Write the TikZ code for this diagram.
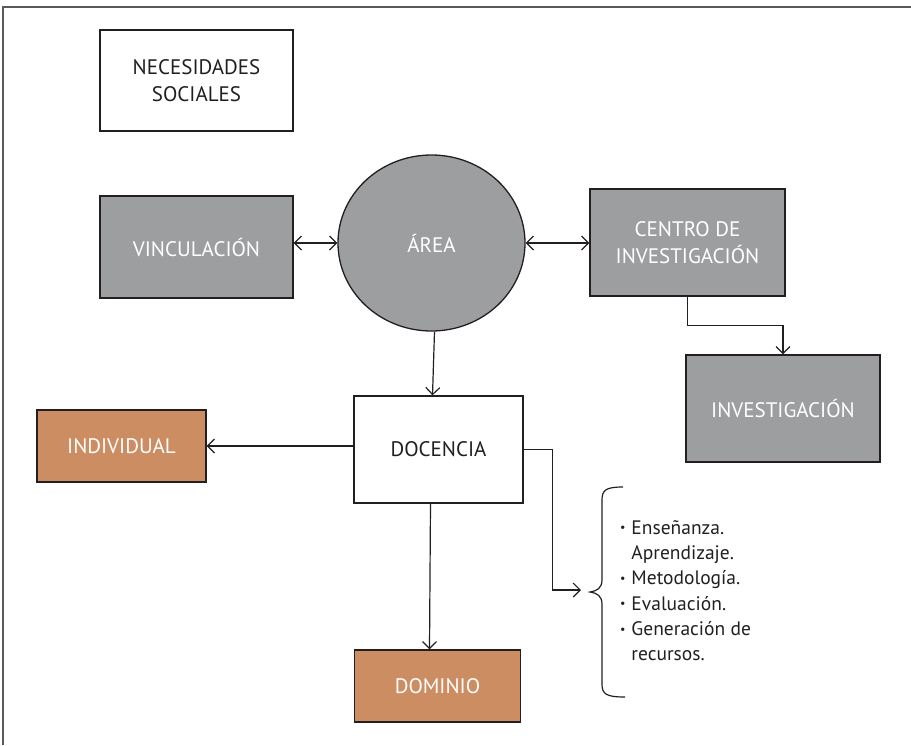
\documentclass[tikz,border=0pt]{standalone}
\usepackage{fontspec}
\setmainfont{PT Sans}
\usetikzlibrary{arrows.meta,shapes.geometric,calc}
\definecolor{boxgray}{HTML}{9D9EA0}
\definecolor{boxorange}{HTML}{CD8D62}
\definecolor{ink}{HTML}{231F20}
\definecolor{framegray}{HTML}{5A5A5A}
\newcommand{\itm}{\raisebox{0.22ex}{\fontsize{12}{12}\selectfont\textbullet}\hspace{0.3em}}
\newcommand{\itmgap}{\hphantom{\itm}}
\tikzset{
  box/.style={draw=ink, line width=1.3pt, rectangle, align=center,
    font=\fontsize{21}{26.5}\selectfont, inner sep=0pt},
  plainbox/.style={box, fill=white, text=ink},
  graybox/.style={box, fill=boxgray, text=white},
  orangebox/.style={box, fill=boxorange, text=white},
  link/.style={draw=ink, line width=1.2pt},
  tip/.style={-{Straight Barb[length=7pt,width=14pt,line width=1.2pt]}},
  bitip/.style={{Straight Barb[length=7pt,width=14pt,line width=1.2pt]}-{Straight Barb[length=7pt,width=14pt,line width=1.2pt]}}
}
\begin{document}
\begin{tikzpicture}[x=1pt,y=-1pt]
\useasboundingbox (0,0) rectangle (911,745);
% page frame (top and left edges)
\draw[framegray, line width=2pt] (3,745) -- (3,7) -- (911,7);

% boxes
\node[plainbox, minimum width=193pt, minimum height=101pt] (nec) at (196.5,80.5) {NECESIDADES\\SOCIALES};
\node[graybox, minimum width=193pt, minimum height=102pt] (vin) at (196.5,247) {VINCULACIÓN};
\node[graybox, ellipse, minimum width=187pt, minimum height=176pt] (area) at (431.5,243) {ÁREA};
\node[graybox, minimum width=195pt, minimum height=107pt] (cen) at (687.5,242.5) {CENTRO DE\\INVESTIGACIÓN};
\node[graybox, minimum width=194pt, minimum height=107pt] (inv) at (783,408.5) {INVESTIGACIÓN};
\node[plainbox, minimum width=169pt, minimum height=107pt] (doc) at (438.5,449.5) {DOCENCIA};
\node[orangebox, minimum width=169pt, minimum height=72pt] (ind) at (121.5,446) {INDIVIDUAL};
\node[orangebox, minimum width=166pt, minimum height=72pt] (dom) at (437.5,686) {DOMINIO};

% list of teaching aspects
\node[anchor=north west, inner sep=0pt, align=left, text=ink,
  font=\fontsize{19.5}{25.3}\selectfont] (lst) at (620,520)
  {\itm Enseñanza.\\ \itmgap Aprendizaje.\\ \itm Metodología.\\ \itm Evaluación.\\ \itm Generación de\\ \itmgap recursos.};

% brace grouping the list
\coordinate (bt) at (581,590);
\draw[link] (623,487) .. controls (606,487) and (602,490) .. (602,500) -- (602,580)
  .. controls (602,588) and (597,591) .. (590,592)
  .. controls (597,593) and (602,596) .. (602,604) -- (602,684)
  .. controls (602,694) and (606,697) .. (625,697);

% connectors
\draw[link, bitip] (area.west -| vin.east) -- (area.west);
\draw[link, bitip] (area.east) -- (area.east -| cen.west);
\draw[link, tip] (cen.south) -- ++(0,29) -| (inv.north);
\draw[link, tip] ([xshift=3pt]area.south) -- ([xshift=-6pt]doc.north);
\draw[link, tip] (ind.east -| doc.west) -- (ind.east);
\draw[link, tip] (doc.east) -- ++(29,0) |- (bt);
\draw[link, tip] ([xshift=-8pt]doc.south) -- ([xshift=-8pt]dom.north);
\end{tikzpicture}
\end{document}
